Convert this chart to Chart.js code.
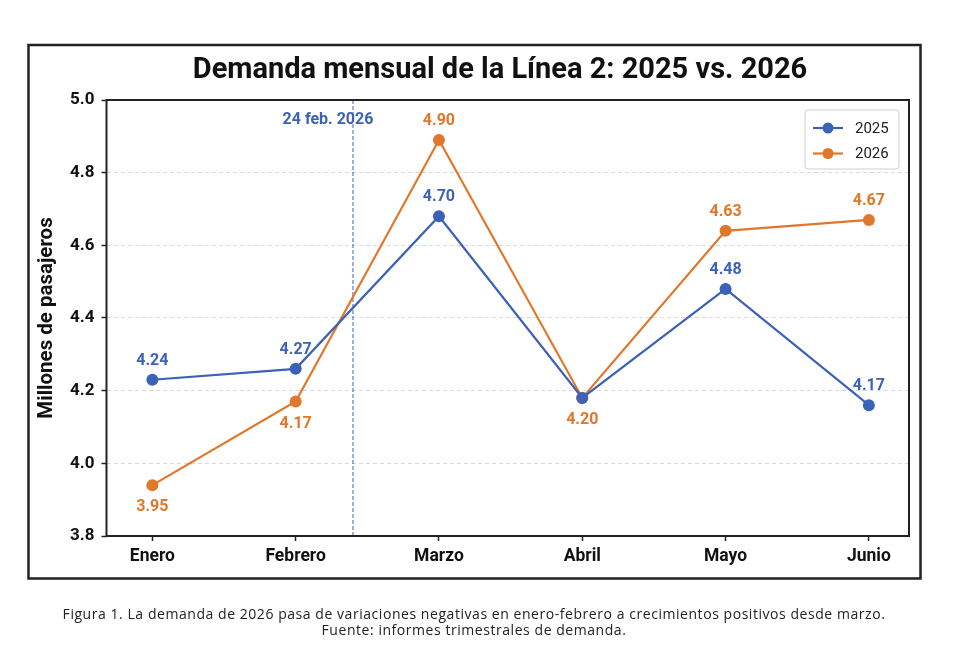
<!DOCTYPE html>
<html lang="es">
<head>
<meta charset="utf-8">
<title>Demanda mensual de la Línea 2</title>
<script src="https://cdn.jsdelivr.net/npm/chart.js@4.4.1/dist/chart.umd.min.js"></script>
<style>
  html, body { margin: 0; padding: 0; background: #fff; }
  #wrap { position: relative; width: 957px; height: 664px; }
  #chart { position: absolute; left: 0; top: 0; }
  #caption {
    position: absolute; left: 0; top: 606px; width: 948px;
    text-align: center; font-family: "Open Sans", sans-serif;
    font-size: 14px; letter-spacing: 0.55px; line-height: 16px; color: #222;
  }
</style>
</head>
<body>
<div id="wrap">
  <canvas id="chart" width="957" height="664"></canvas>
  <div id="caption">Figura 1. La demanda de 2026 pasa de variaciones negativas en enero-febrero a crecimientos positivos desde marzo.<br>Fuente: informes trimestrales de demanda.</div>
</div>
<script>
// datos
const months = ['Enero', 'Febrero', 'Marzo', 'Abril', 'Mayo', 'Junio'];
const demand2025 = [4.23, 4.26, 4.68, 4.18, 4.48, 4.16];
const demand2026 = [3.94, 4.17, 4.89, 4.18, 4.64, 4.67];
const labels2025 = ['4.24', '4.27', '4.70', null, '4.48', '4.17'];
const labels2026 = ['3.95', '4.17', '4.90', '4.20', '4.63', '4.67'];
const yTicks = [3.8, 4.0, 4.2, 4.4, 4.6, 4.8, 5.0];
const markerPos = 1.40;           // 24 feb. 2026 sobre el eje de meses
const markerText = '24 feb. 2026';

const BLUE = '#3b62b7';
const ORANGE = '#e0772a';
const DARK = '#222222';
const FONT = 'Roboto, sans-serif';

// marco, titulo, linea vertical, etiquetas y leyenda
const decor = {
  id: 'decor',
  beforeDraw(chart) {
    const ctx = chart.ctx;
    ctx.save();
    ctx.fillStyle = '#fff';
    ctx.fillRect(0, 0, chart.width, chart.height);
    ctx.strokeStyle = DARK;
    ctx.lineWidth = 2.5;
    ctx.strokeRect(28.5, 45, 892, 533.5);
    ctx.fillStyle = '#111';
    ctx.font = 'bold 29px ' + FONT;
    ctx.textAlign = 'center';
    ctx.textBaseline = 'middle';
    ctx.fillText('Demanda mensual de la Línea 2: 2025 vs. 2026', 500, 71);
    ctx.restore();
  },
  beforeDatasetsDraw(chart) {
    const ctx = chart.ctx;
    const a = chart.chartArea;
    const x = chart.scales.x.getPixelForValue(markerPos);
    ctx.save();
    ctx.strokeStyle = BLUE;
    ctx.lineWidth = 1;
    ctx.setLineDash([4, 2]);
    ctx.beginPath();
    ctx.moveTo(x, a.top);
    ctx.lineTo(x, a.bottom);
    ctx.stroke();
    ctx.setLineDash([]);
    ctx.fillStyle = BLUE;
    ctx.font = 'bold 16px ' + FONT;
    ctx.textAlign = 'center';
    ctx.textBaseline = 'middle';
    ctx.fillText(markerText, x - 25, a.top + 20);
    ctx.strokeStyle = DARK;
    ctx.lineWidth = 2;
    ctx.strokeRect(a.left, a.top, a.right - a.left, a.bottom - a.top);
    ctx.restore();
  },
  afterDatasetsDraw(chart) {
    const ctx = chart.ctx;
    const a = chart.chartArea;
    ctx.save();
    ctx.font = 'bold 16px ' + FONT;
    ctx.textAlign = 'center';
    ctx.textBaseline = 'middle';
    chart.data.datasets.forEach((ds, di) => {
      const meta = chart.getDatasetMeta(di);
      meta.data.forEach((pt, i) => {
        const txt = ds.valueLabels[i];
        if (!txt) return;
        const dy = ds.labelSide[i] === 'below' ? 22 : -19;
        ctx.fillStyle = ds.borderColor;
        ctx.fillText(txt, pt.x, pt.y + dy);
      });
    });

    // leyenda
    const bx = a.right - 104, by = a.top + 10, bw = 94, bh = 59;
    ctx.fillStyle = 'rgba(255,255,255,0.9)';
    ctx.strokeStyle = '#cfcfcf';
    ctx.lineWidth = 1;
    ctx.beginPath();
    ctx.roundRect(bx, by, bw, bh, 3);
    ctx.fill();
    ctx.stroke();
    ctx.font = '15px ' + FONT;
    ctx.textAlign = 'left';
    chart.data.datasets.forEach((ds, di) => {
      const y = by + 18 + di * 25.5;
      ctx.strokeStyle = ds.borderColor;
      ctx.lineWidth = 2.2;
      ctx.beginPath();
      ctx.moveTo(bx + 8, y);
      ctx.lineTo(bx + 38, y);
      ctx.stroke();
      ctx.fillStyle = ds.borderColor;
      ctx.beginPath();
      ctx.arc(bx + 23, y, 5.5, 0, Math.PI * 2);
      ctx.fill();
      ctx.fillStyle = DARK;
      ctx.fillText(ds.label, bx + 50, y + 1);
    });
    ctx.restore();
  }
};

const toPoints = vals => vals.map((v, i) => ({ x: i, y: v }));

new Chart(document.getElementById('chart'), {
  type: 'line',
  data: {
    datasets: [
      {
        label: '2025',
        data: toPoints(demand2025),
        valueLabels: labels2025,
        labelSide: ['above', 'above', 'above', 'above', 'above', 'above'],
        borderColor: BLUE,
        backgroundColor: BLUE,
        borderWidth: 2.2,
        pointRadius: 6,
        pointBorderWidth: 0,
        tension: 0
      },
      {
        label: '2026',
        data: toPoints(demand2026),
        valueLabels: labels2026,
        labelSide: ['below', 'below', 'above', 'below', 'above', 'above'],
        borderColor: ORANGE,
        backgroundColor: ORANGE,
        borderWidth: 2.2,
        pointRadius: 6,
        pointBorderWidth: 0,
        tension: 0
      }
    ]
  },
  options: {
    responsive: false,
    animation: false,
    layout: { padding: { left: 29, right: 48, top: 100, bottom: 85 } },
    plugins: {
      legend: { display: false },
      title: { display: false },
      tooltip: { enabled: false }
    },
    scales: {
      x: {
        type: 'linear',
        min: -0.32,
        max: 5.28,
        afterFit: s => { s.height = 43; },
        afterBuildTicks: s => {
          s.ticks = months.map((m, i) => ({ value: i }));
        },
        border: { display: false },
        grid: { drawOnChartArea: false, drawTicks: true, tickLength: 5, tickColor: DARK, tickWidth: 1.5 },
        ticks: {
          padding: 5,
          color: '#111',
          font: { family: FONT, size: 17.5, weight: 'bold' },
          callback: v => months[v] || ''
        }
      },
      y: {
        min: 3.8,
        max: 5.0,
        afterFit: s => { s.width = 77.5; },
        afterBuildTicks: s => {
          s.ticks = yTicks.map(v => ({ value: v }));
        },
        border: { display: false, dash: [4, 3] },
        grid: {
          color: c => (c.tick && (c.tick.value <= 3.8 || c.tick.value >= 5.0)) ? 'rgba(0,0,0,0)' : '#d9d9d9',
          lineWidth: 1,
          drawTicks: true,
          tickLength: 5,
          tickColor: DARK,
          tickWidth: 1.5,
          tickBorderDash: []
        },
        ticks: {
          padding: 7,
          color: '#111',
          font: { family: FONT, size: 17, weight: 'bold' },
          callback: v => Number(v).toFixed(1)
        },
        title: {
          display: true,
          text: 'Millones de pasajeros',
          color: '#111',
          padding: { top: 6, bottom: 0 },
          font: { family: FONT, size: 20.5, weight: 'bold' }
        }
      }
    }
  },
  plugins: [decor]
});
</script>
</body>
</html>
